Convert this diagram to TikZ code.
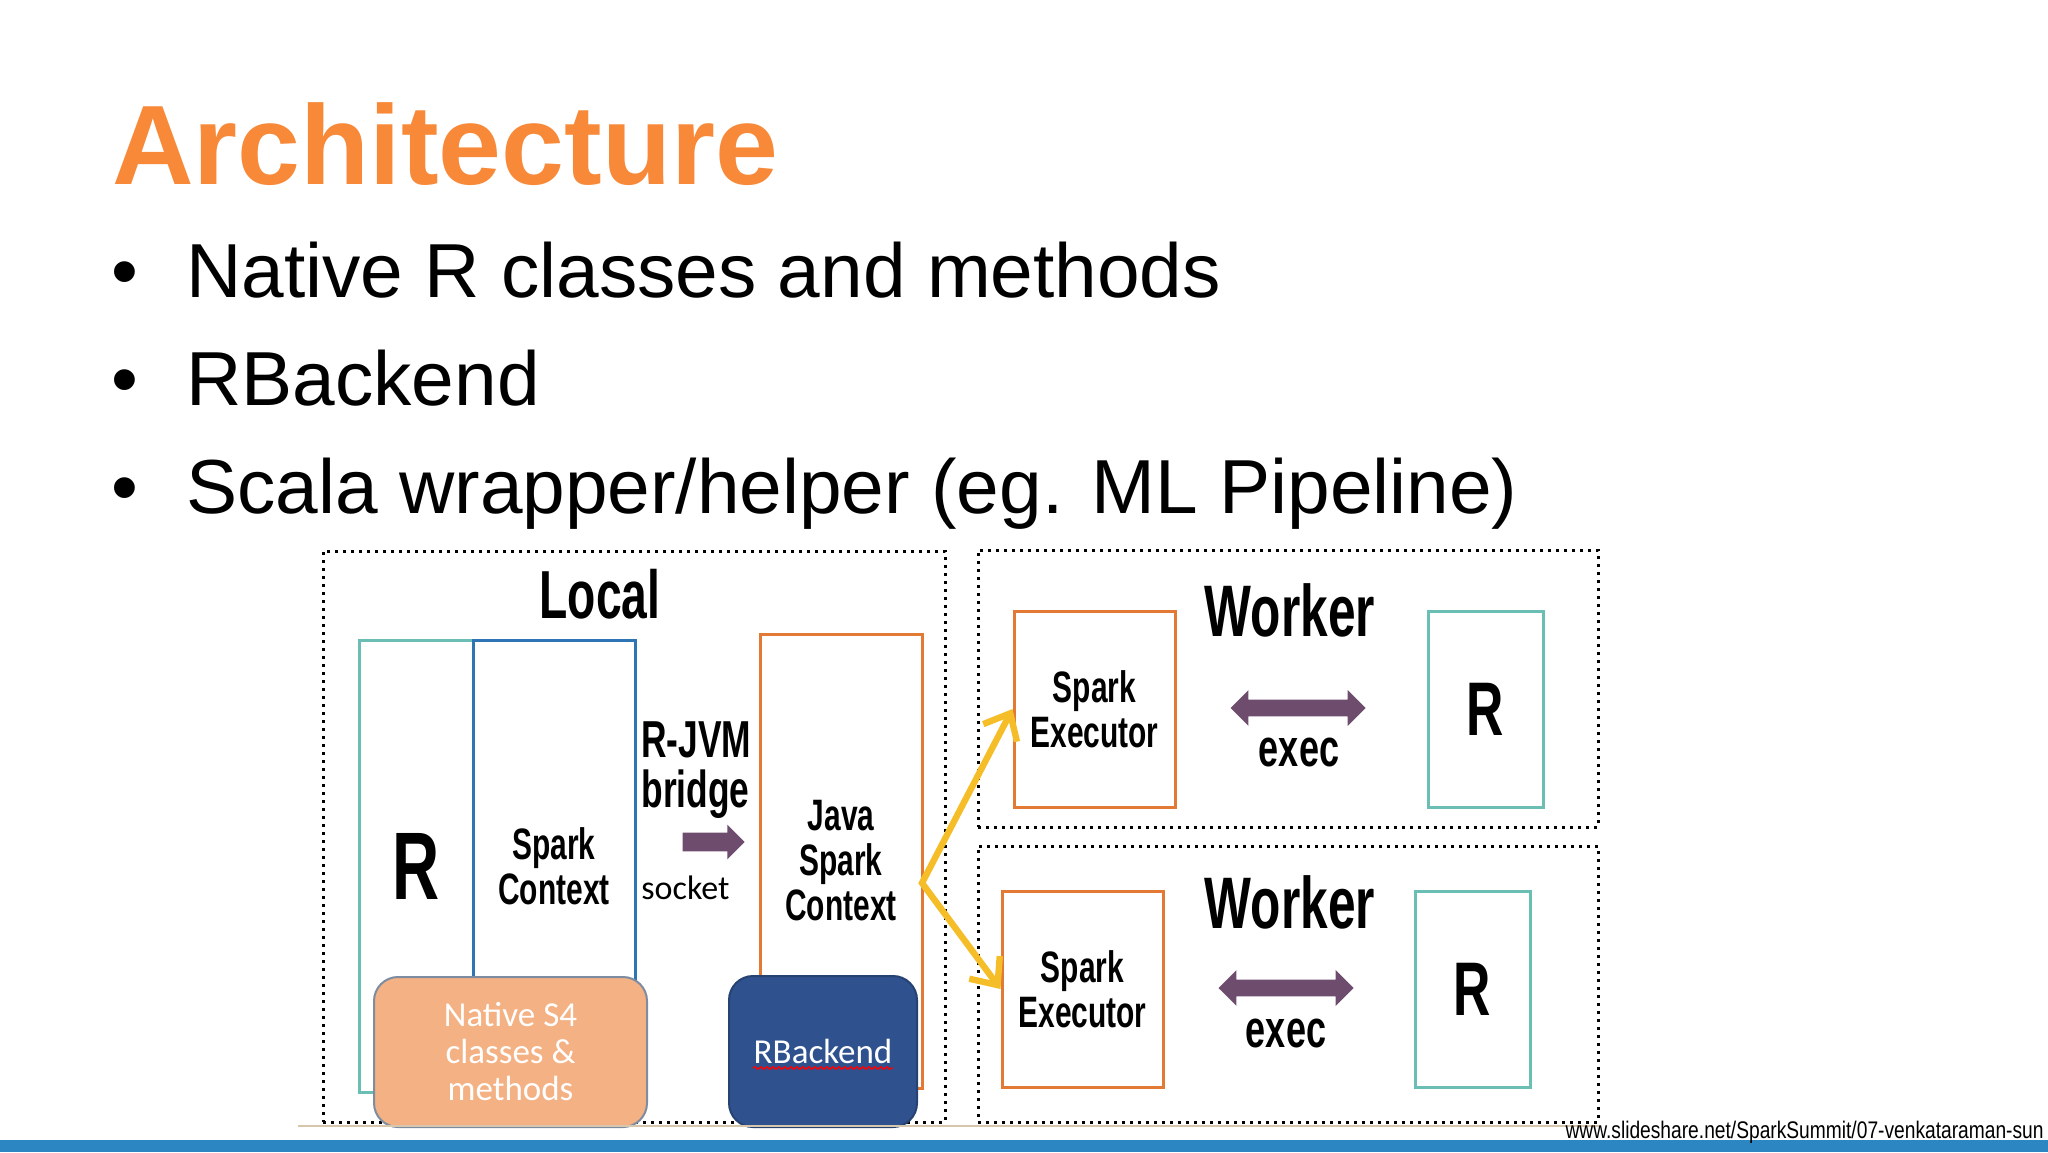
\documentclass[tikz,border=0pt]{standalone}
\usepackage{fontspec}
\setmainfont{Liberation Sans}
\newfontfamily\condfont{Liberation Sans}[FakeStretch=0.68]
\newfontfamily\calfont{Carlito}
\newfontfamily\urlfont{Liberation Sans}[FakeStretch=0.8]
\usetikzlibrary{shapes,arrows,positioning,calc,decorations.pathmorphing,arrows.meta}

\definecolor{titleorange}{RGB}{247,137,57}
\definecolor{rteal}{RGB}{106,190,180}
\definecolor{ctxblue}{RGB}{46,117,182}
\definecolor{jvmorange}{RGB}{226,121,52}
\definecolor{peach}{RGB}{244,177,131}
\definecolor{peachline}{RGB}{125,140,160}
\definecolor{navy}{RGB}{47,82,143}
\definecolor{plum}{RGB}{110,76,110}
\definecolor{gold}{RGB}{245,190,40}
\definecolor{barblue}{RGB}{44,134,193}
\definecolor{sand}{RGB}{214,198,172}

\begin{document}
\begin{tikzpicture}[
    x=0.5pt, y=-0.5pt,
    zone/.style={draw, line width=1.5pt, dash pattern=on 1.5pt off 2.5pt, inner sep=0},
    box/.style={draw, line width=1.5pt, fill=white, inner sep=0, align=center,
        font=\condfont\bfseries\fontsize{22}{22.5}\selectfont},
    pill/.style={draw=peachline, line width=1pt, rounded corners=12pt, inner sep=0,
        align=center, text=white, font=\calfont\fontsize{17.5}{18.5}\selectfont},
    heading/.style={anchor=base, inner sep=0, font=\condfont\bfseries\fontsize{34}{34}\selectfont},
    item/.style={anchor=base west, inner sep=0, font=\fontsize{38.3}{38.3}\selectfont},
    fatarrow/.style={fill=plum, draw=none, inner sep=4.5pt},
    feed/.style={draw=gold, line width=3.2pt, line join=miter,
        {Straight Barb[length=11pt,width=19pt]}-{Straight Barb[length=11pt,width=19pt]}},
    squiggle/.style={draw=red, line width=0.7pt,
        decorate, decoration={snake, amplitude=0.6pt, segment length=3pt}}
]
\useasboundingbox (0,0) rectangle (2048,1152);

% slide text
\node[anchor=base west, inner sep=0, text=titleorange,
    font=\bfseries\fontsize{56.5}{56.5}\selectfont] (title) at (112,184) {Architecture};
\foreach \txt [count=\i] in {Native R classes and methods, RBackend,
    Scala wrapper/helper (eg. ML Pipeline)} {
    \node[item] (dot\i) at (111,189+108*\i) {\textbullet};
    \node[item] (point\i) at (186,189+108*\i) {\txt};
}

% dotted zones
\node[zone, minimum width=311pt, minimum height=285.5pt] (local) at (634,836.5) {};
\node[zone, minimum width=310pt, minimum height=138.5pt] (worker1) at (1288,688.5) {};
\node[zone, minimum width=310pt, minimum height=138pt] (worker2) at (1288,984) {};

% local side
\node[heading] (headlocal) at (600,618) {Local};
\node[box, draw=rteal, minimum width=57pt, minimum height=226pt,
    font=\condfont\bfseries\fontsize{48}{48}\selectfont] (rloc) at (416,866) {R};
\node[box, draw=ctxblue, minimum width=81pt, minimum height=226pt] (sctx) at (554,866) {Spark\\Context};
\node[box, draw=jvmorange, minimum width=81pt, minimum height=227pt] (jctx) at (841,861) {Java\\Spark\\Context};
\node[anchor=base west, align=left, inner sep=0,
    font=\condfont\bfseries\fontsize{26}{25}\selectfont] (bridge) at (641,807) {R-JVM\\bridge};
\node[single arrow, fatarrow, minimum height=31pt, single arrow head extend=4pt,
    single arrow head indent=0pt] (bridgearrow) at (709,842) {};
\node[anchor=base west, inner sep=0, font=\calfont\fontsize{17}{17}\selectfont] (sock) at (641,899) {socket};
\node[pill, fill=peach, minimum width=136.5pt, minimum height=75pt] (natives4) at (510.5,1052) {Native S4\\classes \&\\methods};
\node[pill, fill=navy, draw=navy!80!black, minimum width=94pt, minimum height=75.5pt] (rbackend) at (823,1051.5) {RBackend};
\draw[squiggle] (753,1068) -- (893,1068);

% workers
\node[heading, font=\condfont\bfseries\fontsize{36.5}{36.5}\selectfont] (headw1) at (1290,636) {Worker};
\node[box, draw=jvmorange, minimum width=80.5pt, minimum height=98pt] (exe1) at (1094.5,709) {Spark\\Executor};
\node[double arrow, fatarrow, inner sep=4pt, minimum height=67.5pt, double arrow head extend=4.75pt,
    double arrow head indent=0pt] (execarrow1) at (1298,708) {};
\node[heading, font=\condfont\bfseries\fontsize{26.5}{26.5}\selectfont] (exec1) at (1299,766) {exec};
\node[box, draw=rteal, minimum width=57.5pt, minimum height=98pt,
    font=\condfont\bfseries\fontsize{38}{38}\selectfont] (rw1) at (1485.5,709) {R};

\node[heading, font=\condfont\bfseries\fontsize{36.5}{36.5}\selectfont] (headw2) at (1290,928) {Worker};
\node[box, draw=jvmorange, minimum width=80.5pt, minimum height=98pt] (exe2) at (1082.5,989) {Spark\\Executor};
\node[double arrow, fatarrow, inner sep=4pt, minimum height=67.5pt, double arrow head extend=4.75pt,
    double arrow head indent=0pt] (execarrow2) at (1286,988) {};
\node[heading, font=\condfont\bfseries\fontsize{26.5}{26.5}\selectfont] (exec2) at (1286,1047) {exec};
\node[box, draw=rteal, minimum width=57.5pt, minimum height=98pt,
    font=\condfont\bfseries\fontsize{38}{38}\selectfont] (rw2) at (1472.5,989) {R};

% driver to executors
\coordinate (fork) at (922,883);
\draw[feed] (exe1.west) -- (fork) -- (exe2.west);

% footer
\draw[sand, line width=1pt] (298,1126) -- (1600,1126);
\fill[barblue] (0,1140) rectangle (2048,1152);
\node[anchor=base east, inner sep=0, font=\urlfont\fontsize{12}{12}\selectfont] (src) at (2044,1138)
    {www.slideshare.net/SparkSummit/07-venkataraman-sun};
\end{tikzpicture}
\end{document}
